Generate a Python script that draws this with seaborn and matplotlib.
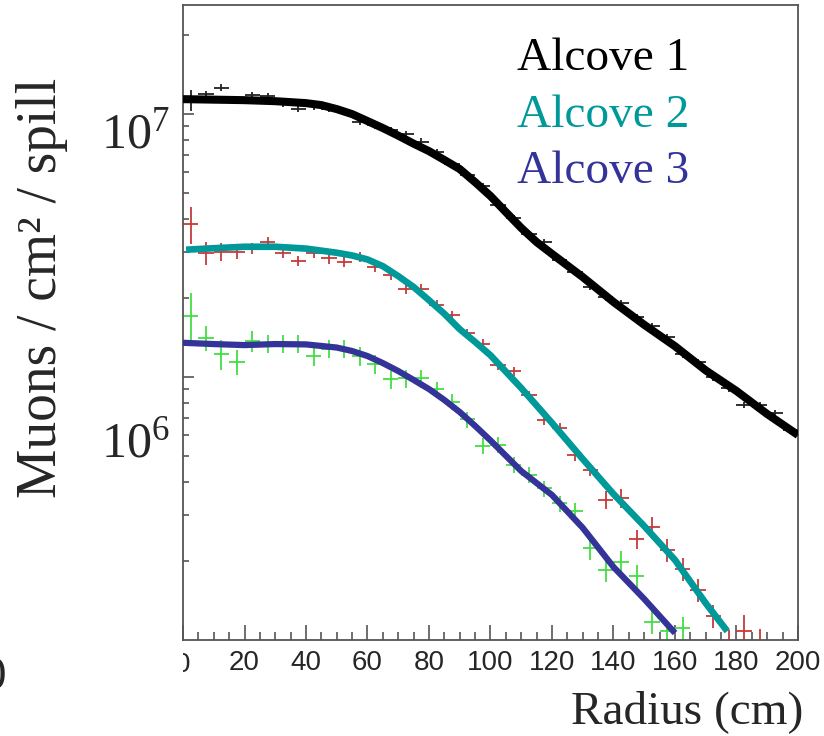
import numpy as np
import pandas as pd
import matplotlib
matplotlib.use("Agg")
import matplotlib.pyplot as plt
import seaborn as sns
from matplotlib import font_manager
from matplotlib.transforms import Bbox, TransformedBbox, blended_transform_factory
from matplotlib.ticker import FixedLocator, NullFormatter

# ---------------- data ----------------
radius_bins = [2.5, 7.5, 12.5, 17.5, 22.5, 27.5, 32.5, 37.5, 42.5, 47.5,
               52.5, 57.5, 62.5, 67.5, 72.5, 77.5, 82.5, 87.5, 92.5, 97.5,
               102.5, 107.5, 112.5, 117.5, 122.5, 127.5, 132.5, 137.5, 142.5, 147.5,
               152.5, 157.5, 162.5, 167.5, 172.5, 177.5, 182.5, 187.5, 192.5, 197.5]
bin_halfwidth = 2.5

alcove1_data = [1.13e7, 1.19e7, 1.26e7, 1.13e7, 1.18e7, 1.17e7, 1.10e7, 1.05e7, 1.07e7, 1.05e7,
                1.02e7, 9.35e6, 9.08e6, 8.70e6, 8.39e6, 7.85e6, 7.17e6, 6.45e6, 5.87e6, 5.32e6,
                4.51e6, 4.02e6, 3.50e6, 3.26e6, 2.79e6, 2.51e6, 2.20e6, 2.01e6, 1.91e6, 1.69e6,
                1.56e6, 1.42e6, 1.22e6, 1.14e6, 1.00e6, 9.06e5, 7.83e5, 7.83e5, 7.28e5, 6.31e5]
alcove1_relerr = [0.09, 0.03, 0.03, 0.03, 0.03, 0.03, 0.03, 0.03, 0.03, 0.03,
                  0.03, 0.03, 0.03, 0.03, 0.03, 0.03, 0.03, 0.03, 0.03, 0.03,
                  0.03, 0.03, 0.03, 0.03, 0.03, 0.03, 0.03, 0.03, 0.03, 0.03,
                  0.03, 0.03, 0.03, 0.03, 0.03, 0.03, 0.03, 0.03, 0.03, 0.03]

alcove2_data = [3.81e6, 2.97e6, 3.00e6, 3.00e6, 3.09e6, 3.27e6, 2.97e6, 2.77e6, 2.97e6, 2.83e6,
                2.74e6, 2.87e6, 2.63e6, 2.44e6, 2.17e6, 2.16e6, 1.88e6, 1.72e6, 1.47e6, 1.34e6,
                1.11e6, 1.05e6, 8.54e5, 6.86e5, 6.38e5, 5.05e5, 4.43e5, 3.41e5, 3.46e5, 2.42e5,
                2.68e5, 2.20e5, 1.86e5, 1.55e5, 1.23e5, 9.5e4, 1.08e5, 9.2e4, np.nan, np.nan]
alcove2_relerr = [0.16, 0.10, 0.08, 0.06, 0.05, 0.045, 0.045, 0.045, 0.045, 0.045,
                  0.045, 0.045, 0.045, 0.045, 0.045, 0.045, 0.04, 0.04, 0.04, 0.04,
                  0.04, 0.04, 0.04, 0.04, 0.05, 0.05, 0.05, 0.08, 0.08, 0.08,
                  0.10, 0.10, 0.10, 0.10, 0.10, 0.15, 0.15, 0.20, 0.20, 0.20]

alcove3_data = [1.71e6, 1.41e6, 1.22e6, 1.14e6, 1.37e6, 1.34e6, 1.34e6, 1.34e6, 1.20e6, 1.28e6,
                1.28e6, 1.20e6, 1.12e6, 9.80e5, 9.89e5, 9.89e5, 8.98e5, 8.06e5, 6.91e5, 5.47e5,
                5.51e5, 4.63e5, 4.24e5, 3.77e5, 3.31e5, 3.10e5, 2.23e5, 1.85e5, 1.98e5, 1.75e5,
                1.17e5, 1.08e5, 1.11e5, np.nan, np.nan, np.nan, np.nan, np.nan, np.nan, np.nan]
alcove3_relerr = [0.22, 0.11, 0.13, 0.11, 0.09, 0.08, 0.08, 0.08, 0.08, 0.08,
                  0.08, 0.08, 0.08, 0.08, 0.08, 0.08, 0.07, 0.07, 0.07, 0.07,
                  0.07, 0.07, 0.07, 0.07, 0.07, 0.07, 0.10, 0.10, 0.10, 0.10,
                  0.10, 0.10, 0.10, 0.10, 0.10, 0.10, 0.10, 0.10, 0.10, 0.10]

fit1_r = [0, 10, 20, 30, 40, 45, 50, 55, 60, 65, 70, 75, 80, 85, 90, 95, 100, 105, 110, 115,
          120, 130, 140, 150, 160, 170, 180, 190, 200]
fit1 = [1.140e7, 1.135e7, 1.130e7, 1.120e7, 1.101e7, 1.082e7, 1.045e7, 1.000e7, 9.41e6, 8.85e6,
        8.28e6, 7.72e6, 7.23e6, 6.69e6, 6.18e6, 5.51e6, 4.88e6, 4.24e6, 3.69e6, 3.26e6,
        2.94e6, 2.40e6, 1.93e6, 1.58e6, 1.31e6, 1.06e6, 8.85e5, 7.23e5, 6.02e5]

fit2_r = [1, 10, 20, 30, 40, 50, 55, 60, 65, 70, 75, 80, 85, 90, 95, 100, 110, 120, 130, 140,
          150, 160, 170, 177]
fit2 = [3.05e6, 3.09e6, 3.13e6, 3.13e6, 3.08e6, 2.97e6, 2.90e6, 2.80e6, 2.64e6, 2.42e6,
        2.20e6, 1.96e6, 1.74e6, 1.52e6, 1.36e6, 1.21e6, 9.08e5, 6.69e5, 4.88e5, 3.59e5,
        2.71e5, 2.015e5, 1.38e5, 1.08e5]

fit3_r = [0, 10, 20, 30, 40, 50, 55, 60, 65, 70, 75, 80, 85, 90, 95, 100, 110, 120, 130, 140,
          150, 160]
fit3 = [1.35e6, 1.335e6, 1.323e6, 1.335e6, 1.331e6, 1.295e6, 1.256e6, 1.202e6, 1.13e6, 1.054e6,
        9.75e5, 9.00e5, 8.18e5, 7.36e5, 6.52e5, 5.74e5, 4.39e5, 3.56e5, 2.67e5, 1.895e5,
        1.432e5, 1.063e5]

series_names = ["Alcove 1", "Alcove 2", "Alcove 3"]
x_tick_values = [0, 20, 40, 60, 80, 100, 120, 140, 160, 180, 200]
x_tick_labels = ["0", "20", "40", "60", "80", "100", "120", "140", "160", "180", "200"]
y_tick_labels = ["10$^{7}$", "10$^{6}$"]

# ---------------- style ----------------
sns.set_theme(style="white")
plt.rcParams["font.family"] = ["Liberation Serif", "DejaVu Serif"]
plt.rcParams["mathtext.fontset"] = "custom"
plt.rcParams["mathtext.rm"] = "Liberation Serif"
plt.rcParams["mathtext.it"] = "Liberation Serif"

avail = {f.name for f in font_manager.fontManager.ttflist}
tick_family = "Liberation Sans Narrow" if "Liberation Sans Narrow" in avail else "Liberation Sans"

fit_colors = ["#000000", "#009999", "#333399"]
data_colors = ["#222222", "#c83a3a", "#44dd44"]
frame_col = "#555555"

W, H = 824, 736
fig = plt.figure(figsize=(W / 100, H / 100), dpi=100)
ax = fig.add_axes([183 / W, 1 - 640 / H, 615 / W, 635 / H])
ax.set_yscale("log")
ax.set_xlim(0, 200)
ax.set_ylim(1e5, 2.6e7)

# data crosses
for vals, rel, col in [(alcove1_data, alcove1_relerr, data_colors[0]),
                       (alcove2_data, alcove2_relerr, data_colors[1]),
                       (alcove3_data, alcove3_relerr, data_colors[2])]:
    v = np.array(vals, dtype=float)
    e = v * np.array(rel)
    ax.errorbar(radius_bins, v, xerr=bin_halfwidth, yerr=e, fmt="none",
                ecolor=col, elinewidth=1.3, capsize=0, zorder=2)

# fit curves
fits = pd.concat([
    pd.DataFrame({"radius": fit1_r, "muons": fit1, "alcove": series_names[0]}),
    pd.DataFrame({"radius": fit2_r, "muons": fit2, "alcove": series_names[1]}),
    pd.DataFrame({"radius": fit3_r, "muons": fit3, "alcove": series_names[2]}),
])
lws = [5.8, 4.8, 4.5]
for name, col, lw in zip(series_names, fit_colors, lws):
    sub = fits[fits["alcove"] == name]
    sns.lineplot(data=sub, x="radius", y="muons", ax=ax, color=col, linewidth=lw,
                 estimator=None, sort=False, legend=False, zorder=3,
                 solid_capstyle="butt", solid_joinstyle="round")

# frame
for s in ax.spines.values():
    s.set_color(frame_col)
    s.set_linewidth(1.3)
    s.set_visible(True)

# ticks
ax.xaxis.set_major_locator(FixedLocator(x_tick_values))
ax.xaxis.set_minor_locator(FixedLocator(list(range(0, 201, 5))))
ax.set_xticklabels([""] + x_tick_labels[1:])
ax.tick_params(axis="x", which="major", direction="in", length=11, width=1.2,
               color=frame_col, pad=7, labelsize=20, bottom=True, top=False)
ax.tick_params(axis="x", which="minor", direction="in", length=6, width=1.2,
               color=frame_col, bottom=True, top=False)
for lab in ax.get_xticklabels():
    lab.set_fontfamily(tick_family)

ax.yaxis.set_major_locator(FixedLocator([1e6, 1e7]))
minor_y = [m * 10 ** d for d in (5, 6, 7) for m in range(2, 10) if m * 10 ** d < 2.6e7]
ax.yaxis.set_minor_locator(FixedLocator(minor_y))
ax.yaxis.set_major_formatter(NullFormatter())
ax.yaxis.set_minor_formatter(NullFormatter())
ax.tick_params(axis="y", which="major", direction="in", length=8, width=1.2,
               color=frame_col, left=True, right=False)
ax.tick_params(axis="y", which="minor", direction="in", length=4.5, width=1.2,
               color=frame_col, left=True, right=False)
ax.set_ylabel("")
ax.set_xlabel("")

# clipped "0" tick label at the axis corner
zero = ax.text(0, -7 / 72 * 100 / 635 - 0.004, x_tick_labels[0],
               transform=blended_transform_factory(ax.transData, ax.transAxes),
               ha="center", va="top", fontsize=20, fontfamily=tick_family)
zero.set_clip_on(True)
zero.set_clip_box(TransformedBbox(Bbox([[0.0, -0.2], [0.2, 0.0]]), ax.transAxes))

# y decade labels (placed as in the reference)
fig.text(170 / W, 1 - 148 / H, y_tick_labels[0], ha="right", va="baseline", fontsize=36)
fig.text(170 / W, 1 - 457 / H, y_tick_labels[1], ha="right", va="baseline", fontsize=36)

# axis titles
fig.text(803 / W, 1 - 712 / H, "Radius (cm)", ha="right", va="center", fontsize=34)
fig.text(42 / W, 1 - 288 / H, "Muons / cm² / spill", ha="center", va="center",
         rotation=90, fontsize=40)

# legend as coloured text
for name, col, yb in zip(series_names, fit_colors, [70, 127, 183]):
    fig.text(517 / W, 1 - yb / H, name, color=col, ha="left", va="baseline", fontsize=34)

# stray glyph partly outside the left edge, as in the reference
fig.text(-6 / W, 1 - 678 / H, "0", ha="center", va="center", fontsize=34)

fig.savefig("out.png", dpi=100)
